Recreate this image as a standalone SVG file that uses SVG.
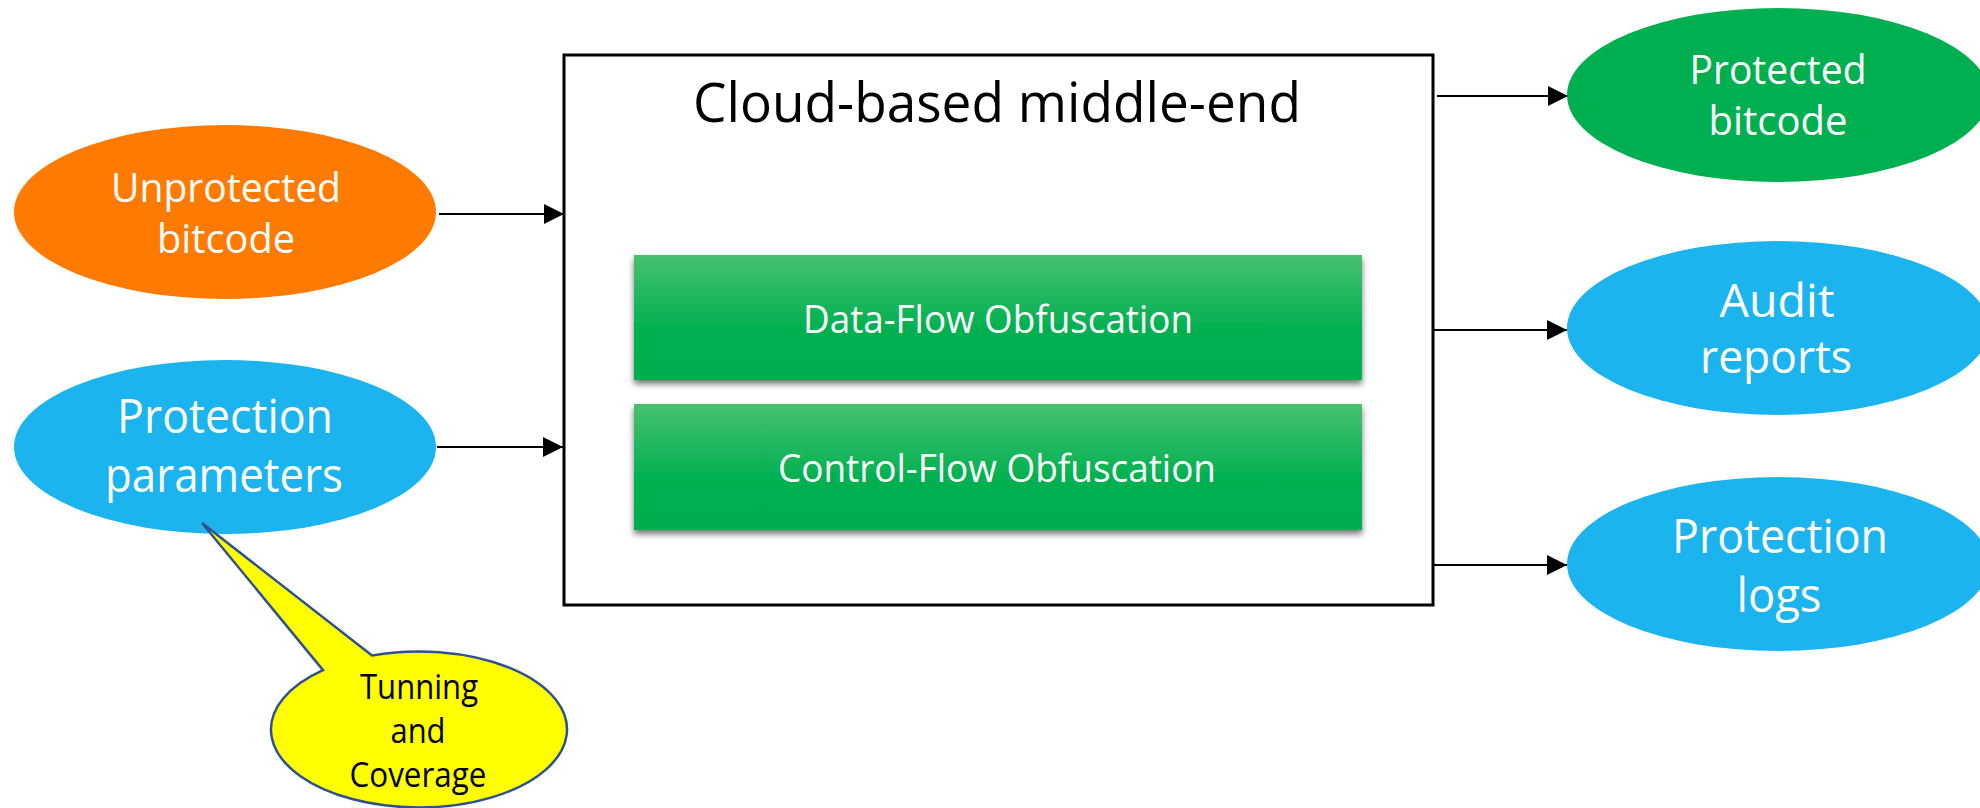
<svg xmlns="http://www.w3.org/2000/svg" width="1980" height="808" viewBox="0 0 1980 808">
  <style>
    .lbl { font-family: "Open Sans", "Noto Sans", sans-serif; fill: #ffffff; text-anchor: middle; }
    .title { font-family: "Open Sans", "Noto Sans", sans-serif; fill: #000000; text-anchor: middle; font-size: 55px; }
    .note { font-family: "Open Sans", "Noto Sans", sans-serif; fill: #000000; text-anchor: middle; font-size: 34px; }
    .conn { stroke: #000000; stroke-width: 2; fill: none; marker-end: url(#arrow); }
    .stage { fill: url(#stageFill); filter: url(#shadow); }
  </style>
  <defs>
    <marker id="arrow" markerUnits="userSpaceOnUse" markerWidth="20" markerHeight="20" refX="20" refY="10" orient="auto">
      <path d="M0,0 L20,10 L0,20 z" fill="#000000"/>
    </marker>
    <linearGradient id="stageFill" x1="0" y1="0" x2="0" y2="1">
      <stop offset="0" stop-color="#47c16f"/>
      <stop offset="0.6" stop-color="#00b050"/>
      <stop offset="1" stop-color="#00ae4e"/>
    </linearGradient>
    <filter id="shadow" x="-5%" y="-10%" width="110%" height="130%">
      <feDropShadow dx="0" dy="4" stdDeviation="3" flood-color="#000000" flood-opacity="0.55"/>
    </filter>
  </defs>

  <rect width="1980" height="808" fill="#ffffff"/>

  <!-- connectors -->
  <g id="connectors">
    <path class="conn" d="M439,214 H564"/>
    <path class="conn" d="M437,447 H563"/>
    <path class="conn" d="M1437,96 H1568"/>
    <path class="conn" d="M1433,330 H1567"/>
    <path class="conn" d="M1433,565 H1567"/>
  </g>

  <!-- inputs -->
  <g id="unprotected-bitcode">
    <ellipse cx="225" cy="212" rx="211" ry="87" fill="#ff7a00"/>
    <text class="lbl" x="226" y="202" font-size="41" textLength="230" lengthAdjust="spacingAndGlyphs">Unprotected</text>
    <text class="lbl" x="226" y="253" font-size="41" textLength="138" lengthAdjust="spacingAndGlyphs">bitcode</text>
  </g>

  <g id="protection-parameters">
    <ellipse cx="225" cy="447" rx="211" ry="87" fill="#1cb4ee"/>
    <text class="lbl" x="225" y="433" font-size="47" textLength="216" lengthAdjust="spacingAndGlyphs">Protection</text>
    <text class="lbl" x="224" y="492" font-size="47" textLength="238" lengthAdjust="spacingAndGlyphs">parameters</text>
  </g>

  <!-- callout attached to the parameters: ellipse centred at (419,729.5), rx 148, ry 78 -->
  <g id="tuning-callout">
    <path d="M372,655.5 L202,523 L323,670.1 A148,78 0 1 0 372,655.5 Z" fill="#ffff00" stroke="#2f528f" stroke-width="2.5" stroke-linejoin="miter"/>
    <text class="note" x="419" y="699" textLength="118" lengthAdjust="spacingAndGlyphs">Tunning</text>
    <text class="note" x="418" y="743" textLength="55" lengthAdjust="spacingAndGlyphs">and</text>
    <text class="note" x="418" y="787" textLength="137" lengthAdjust="spacingAndGlyphs">Coverage</text>
  </g>

  <!-- middle-end container -->
  <g id="middle-end">
    <rect x="564" y="55" width="869" height="550" fill="#ffffff" stroke="#000000" stroke-width="3"/>
    <text class="title" x="997" y="122" textLength="608" lengthAdjust="spacingAndGlyphs">Cloud-based  middle-end</text>
  </g>

  <g id="data-flow">
    <rect class="stage" x="634" y="255" width="728" height="125"/>
    <text class="lbl" x="998" y="333" font-size="38" textLength="390" lengthAdjust="spacingAndGlyphs">Data-Flow Obfuscation</text>
  </g>

  <g id="control-flow">
    <rect class="stage" x="634" y="404" width="728" height="126"/>
    <text class="lbl" x="997" y="482" font-size="38" textLength="438" lengthAdjust="spacingAndGlyphs">Control-Flow Obfuscation</text>
  </g>

  <!-- outputs -->
  <g id="protected-bitcode">
    <ellipse cx="1778" cy="95" rx="211" ry="87" fill="#00b050"/>
    <text class="lbl" x="1778" y="84" font-size="41" textLength="177" lengthAdjust="spacingAndGlyphs">Protected</text>
    <text class="lbl" x="1778" y="135" font-size="41" textLength="139" lengthAdjust="spacingAndGlyphs">bitcode</text>
  </g>

  <g id="audit-reports">
    <ellipse cx="1778" cy="328" rx="211" ry="87" fill="#1cb4ee"/>
    <text class="lbl" x="1777" y="317" font-size="46" textLength="115" lengthAdjust="spacingAndGlyphs">Audit</text>
    <text class="lbl" x="1776" y="373" font-size="46" textLength="152" lengthAdjust="spacingAndGlyphs">reports</text>
  </g>

  <g id="protection-logs">
    <ellipse cx="1778" cy="564" rx="211" ry="87" fill="#1cb4ee"/>
    <text class="lbl" x="1780" y="553" font-size="47" textLength="216" lengthAdjust="spacingAndGlyphs">Protection</text>
    <text class="lbl" x="1779" y="612" font-size="47" textLength="85" lengthAdjust="spacingAndGlyphs">logs</text>
  </g>
</svg>
